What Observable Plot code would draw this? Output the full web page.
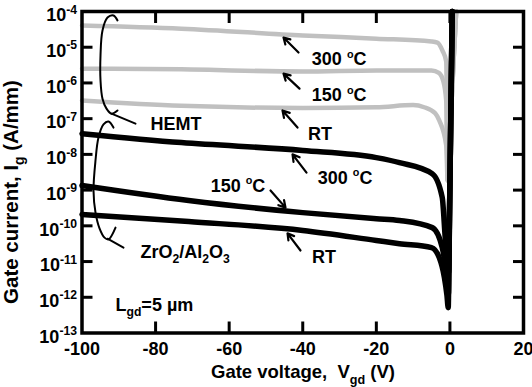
<!DOCTYPE html>
<html><head><meta charset="utf-8">
<script src="https://cdn.jsdelivr.net/npm/d3@7"></script>
<script src="https://cdn.jsdelivr.net/npm/@observablehq/plot@0.6"></script>
<style>
html,body{margin:0;padding:0;background:#fff;}
#chart svg{display:block;}
</style>
</head><body><div id="chart"></div>
<script>
// ---- Data: gate voltage (V) and log10 of gate current (A/mm) ----
const vHemt300 = [-100,-73,-40,-20,-5,-3.4,-2,-1.0,-0.6,0.2,1.0,1.7];
const lHemt300 = [-4.39,-4.48,-4.67,-4.76,-4.84,-4.87,-5.10,-5.40,-8.73,-7.05,-5.37,-4.0];
const vHemt150 = [-100,-73,-40,-20,-5,-3,-1.8,-1.0,-0.6,0.2,1.0,1.7];
const lHemt150 = [-5.60,-5.62,-5.68,-5.65,-5.65,-5.72,-5.95,-6.50,-8.73,-7.05,-5.37,-4.0];
const vHemtRT  = [-100,-73,-40,-20,-10,-7,-4,-2.9,-1.0,-0.6,0.2,1.0,1.7];
const lHemtRT  = [-6.49,-6.64,-6.70,-6.68,-6.62,-6.68,-6.85,-7.05,-7.75,-8.73,-7.05,-5.37,-4.0];
const vZr300 = [-100,-73,-40,-20,-13.7,-4.8,-2.1,-1.3,-0.8,-0.35,0,0.35,0.63];
const lZr300 = [-7.42,-7.67,-7.89,-8.09,-8.23,-8.54,-9.20,-10.3,-11.0,-11.3,-8.8,-6.13,-4.0];
const vZr150 = [-100,-71,-40,-20,-13.7,-4.8,-2.1,-1.3,-0.7,-0.4,-0.1,0.35,0.63];
const lZr150 = [-8.87,-9.29,-9.63,-9.80,-9.85,-10.05,-10.60,-11.10,-11.7,-11.9,-9.6,-6.13,-4.0];
const vZrRT  = [-100,-71,-40,-20,-13.7,-5,-2.9,-1.5,-0.8,-0.46,-0.2,0.1,0.35,0.63];
const lZrRT  = [-9.68,-9.88,-10.13,-10.41,-10.50,-10.61,-10.89,-11.45,-11.95,-12.29,-10.31,-8.03,-6.13,-4.0];

// ---- Axes ----
const xTickValues = [-100,-80,-60,-40,-20,0,20];
const xInnerTicks = [-80,-60,-40,-20,0];
const yExponents = [-4,-5,-6,-7,-8,-9,-10,-11,-12,-13];
const yInnerExponents = [-5,-6,-7,-8,-9,-10,-11,-12];

// ---- Annotations (data units: V, log10 A/mm) ----
const arrowV1 = [-41.15,-40.88,-41.42,-38.98,-48.76,-40.61];
const arrowL1 = [-5.15,-6.16,-7.25,-8.51,-9.01,-10.69];
const arrowV2 = [-45.23,-45.23,-45.50,-42.78,-44.68,-44.14];
const arrowL2 = [-4.73,-5.74,-6.77,-8.00,-9.49,-10.21];
const tempText = ["300 ^{o}C","150 ^{o}C","RT","300 ^{o}C","150 ^{o}C","RT"];
const tempV = [-30.1,-30.1,-35.3,-28.5,-57.6,-34.2];
const tempL = [-5.34,-6.35,-7.43,-8.66,-8.89,-10.87];
const groupText = ["HEMT","ZrO_{2}/Al_{2}O_{3}","L_{gd}=5 µm"];
const groupV = [-81.4,-84.1,-90.9];
const groupL = [-7.16,-10.73,-12.22];
// bracket outlines
const bracketHemtV = [-90.35,-91.44,-93.07,-94.43,-94.97,-94.97,-94.43,-93.34,-91.98,-90.35];
const bracketHemtL = [-4.25,-4.11,-4.17,-4.53,-5.23,-5.93,-6.44,-6.72,-6.86,-6.77];
const tailHemtV = [-91.98,-85.46];
const tailHemtL = [-6.86,-7.14];
const bracketZrV = [-91.44,-92.80,-94.16,-95.52,-96.33,-96.87,-96.33,-95.24,-93.88,-92.80,-90.89];
const bracketZrL = [-7.25,-7.08,-7.16,-7.53,-8.17,-9.01,-9.63,-10.07,-10.33,-10.38,-10.05];
const tailZrV = [-93.07,-88.72];
const tailZrL = [-10.36,-10.61];

// ---- Build tables ----
const mk = (name, vs, ls) => vs.map((v, i) => ({curve: name, v, ig: Math.pow(10, ls[i])}));
const grayData = [...mk("HEMT 300",vHemt300,lHemt300), ...mk("HEMT 150",vHemt150,lHemt150), ...mk("HEMT RT",vHemtRT,lHemtRT)];
const blackData = [...mk("Zr 300",vZr300,lZr300), ...mk("Zr 150",vZr150,lZr150), ...mk("Zr RT",vZrRT,lZrRT)];
const bracketData = [...mk("bh",bracketHemtV,bracketHemtL), ...mk("th",tailHemtV,tailHemtL), ...mk("bz",bracketZrV,bracketZrL), ...mk("tz",tailZrV,tailZrL)];
const arrows = arrowV1.map((v, i) => ({x1: v, y1: 10**arrowL1[i], x2: arrowV2[i], y2: 10**arrowL2[i]}));
const temps = tempText.map((t, i) => ({t, v: tempV[i], ig: 10**tempL[i]}));
const groups = groupText.map((t, i) => ({t, v: groupV[i], ig: 10**groupL[i]}));

const FONT = "'Liberation Sans', Arial, Helvetica, sans-serif";
const chart = Plot.plot({
  width: 532, height: 387,
  marginLeft: 81.5, marginRight: 9, marginTop: 11, marginBottom: 54.5,
  x: {domain: [-100, 20]},
  y: {type: "log", domain: [1e-13, 1e-4]},
  style: {fontFamily: FONT, fontSize: "18px", fontWeight: "bold", color: "black", background: "white", overflow: "visible"},
  marks: [
    Plot.line(grayData, {x: "v", y: "ig", z: "curve", stroke: "#c0c0c0", strokeWidth: 4.5, curve: "monotone-x", strokeLinejoin: "round", strokeLinecap: "round"}),
    Plot.line(blackData, {x: "v", y: "ig", z: "curve", stroke: "black", strokeWidth: 5.5, curve: "monotone-x", strokeLinejoin: "round", strokeLinecap: "round"}),
    Plot.line(bracketData, {x: "v", y: "ig", z: "curve", stroke: "black", strokeWidth: 2, curve: "catmull-rom"}),
    Plot.arrow(arrows, {x1: "x1", y1: "y1", x2: "x2", y2: "y2", stroke: "black", strokeWidth: 2.2, headLength: 9}),
    Plot.text(temps, {x: "v", y: "ig", text: "t", textAnchor: "middle", fill: "black"}),
    Plot.text(groups, {x: "v", y: "ig", text: "t", textAnchor: "start", fill: "black"}),
    Plot.frame({stroke: "black", strokeWidth: 3.5}),
    Plot.axisY(yInnerExponents.map(e => 10**e), {anchor: "left", tickSize: 11, dx: 11, fill: "none", label: null, strokeWidth: 3}),
    Plot.axisY(yInnerExponents.map(e => 10**e), {anchor: "right", tickSize: 11, dx: -11, fill: "none", label: null, strokeWidth: 3}),
    Plot.axisX(xInnerTicks, {anchor: "bottom", tickSize: 11, dy: -11, fill: "none", label: null, strokeWidth: 3}),
    Plot.axisX(xInnerTicks, {anchor: "top", tickSize: 11, dy: 11, fill: "none", label: null, strokeWidth: 3}),
    Plot.axisY(yExponents.map(e => 10**e), {anchor: "left", tickSize: 0, tickPadding: 5, dy: 4, label: null,
      tickFormat: d => "10^{" + Math.round(Math.log10(d)) + "}"}),
    Plot.axisX(xTickValues, {anchor: "bottom", tickSize: 0, tickPadding: 9, label: null, tickFormat: d => String(d)})
  ]
});
document.getElementById("chart").appendChild(chart);

const svg = d3.select(chart);
svg.append("text").attr("x", 303).attr("y", 378).attr("text-anchor", "middle")
  .attr("font-size", 18.5).attr("font-weight", "bold").attr("fill", "black")
  .text("Gate voltage,  V_{gd} (V)");
svg.append("text").attr("transform", "translate(18,192) rotate(-90)").attr("text-anchor", "middle")
  .attr("font-size", 20.5).attr("font-weight", "bold").attr("fill", "black")
  .text("Gate current, I_{g} (A/mm)");

// rich text: ^{..} superscript, _{..} subscript
const NS = "http://www.w3.org/2000/svg";
function richify(el) {
  const s = el.textContent;
  if (!/[_^]\{/.test(s)) return;
  const fs = parseFloat(getComputedStyle(el).fontSize) || 18;
  while (el.firstChild) el.removeChild(el.firstChild);
  const re = /([_^])\{([^}]*)\}/g;
  let last = 0, m, shift = 0;
  const add = (txt, kind) => {
    if (!txt) return;
    const t = document.createElementNS(NS, "tspan");
    t.textContent = txt;
    const target = kind === "^" ? -0.42 * fs : kind === "_" ? 0.3 * fs : 0;
    if (target !== shift) t.setAttribute("dy", (target - shift).toFixed(2));
    shift = target;
    if (kind) t.setAttribute("font-size", ((txt === "o" ? 0.6 : 0.68) * fs).toFixed(1));
    el.appendChild(t);
  };
  while ((m = re.exec(s))) {
    add(s.slice(last, m.index), null);
    add(m[2], m[1]);
    last = re.lastIndex;
  }
  add(s.slice(last), null);
}
chart.querySelectorAll("text").forEach(richify);
</script>
</body></html>
